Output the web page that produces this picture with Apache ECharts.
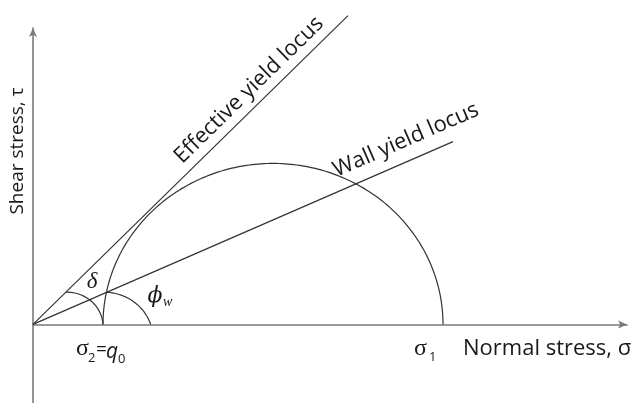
<!DOCTYPE html>
<html><head><meta charset="utf-8">
<script src="https://cdn.jsdelivr.net/npm/echarts@6.0.0/dist/echarts.min.js"></script>
<style>html,body{margin:0;padding:0;background:#fff}#c{width:639px;height:403px}</style>
</head><body><div id="c"></div>
<script>
// ---- diagram values (stress units, origin = 0) ----
const sigma2 = 70;                    // σ2 = q0 (minor principal stress)
const sigma1 = 410;                   // σ1 (major principal stress)
const effectiveLocus = [[0, 0], [315, 326]];
const wallLocus = [[0, 0], [420, 193]];
// angle markers: [centerX, centerY, radius] of arc, ends on the x axis and on a locus
const deltaArc = [34, -2, 36];
const phiArc = [71, -15, 49];
const xRange = [0, 594];
const yRange = [-83, 313];

// ---- derived geometry ----
function mohrCircle(s2, s1) {
  const c = (s1 + s2) / 2, r = (s1 - s2) / 2, pts = [];
  for (let d = 0; d <= 180; d += 1) {
    const t = d * Math.PI / 180;
    pts.push([c + r * Math.cos(t), r * Math.sin(t)]);
  }
  return pts;
}
function markerArc(arc, locus) {
  const [cx, cy, r] = arc;
  const m = locus[1][1] / locus[1][0];
  const a = 1 + m * m, b = -2 * (cx + m * cy), cc = cx * cx + cy * cy - r * r;
  const x = (-b + Math.sqrt(b * b - 4 * a * cc)) / (2 * a);
  const t1 = Math.atan2(m * x - cy, x - cx);
  const t0 = Math.asin(-cy / r);
  const pts = [], n = 60;
  for (let i = 0; i <= n; i++) {
    const t = t0 + (t1 - t0) * i / n;
    pts.push([cx + r * Math.cos(t), cy + r * Math.sin(t)]);
  }
  return pts;
}

const lineCol = '#333333';
function lineSeries(data, w) {
  return { type: 'line', data: data, showSymbol: false, symbol: 'none', clip: false, silent: true,
    lineStyle: { color: lineCol, width: w || 1.2 }, animation: false };
}

const chart = echarts.init(document.getElementById('c'), null, { renderer: 'canvas' });
const txt = '#1a1a1a';
const sans = '"Open Sans", sans-serif';
const serif = '"Liberation Serif", "DejaVu Serif", serif';
const dserif = '"DejaVu Serif", serif';
function T(x, y, text, font, opts) {
  opts = opts || {};
  return { type: 'text', x: x, y: y, rotation: opts.rot || 0, silent: true,
    style: { text: text, font: font, fill: txt,
      align: opts.align || 'left', verticalAlign: 'middle',
      textAlign: opts.align || 'left', textVerticalAlign: 'middle' } };
}
const deg = Math.PI / 180;

chart.setOption({
  animation: false,
  backgroundColor: '#fff',
  grid: { left: 33, right: 12, top: 28, bottom: 0, containLabel: false },
  xAxis: { type: 'value', min: xRange[0], max: xRange[1],
    axisLine: { onZero: true, symbol: ['none', 'arrow'], symbolSize: [6, 9],
      lineStyle: { color: '#7a7a7a', width: 1.6 } },
    axisTick: { show: false }, axisLabel: { show: false }, splitLine: { show: false } },
  yAxis: { type: 'value', min: yRange[0], max: yRange[1],
    axisLine: { show: true, onZero: true, symbol: ['none', 'arrow'], symbolSize: [6, 9],
      lineStyle: { color: '#7a7a7a', width: 1.6 } },
    axisTick: { show: false }, axisLabel: { show: false }, splitLine: { show: false } },
  series: [
    lineSeries(effectiveLocus),
    lineSeries(wallLocus),
    lineSeries(mohrCircle(sigma2, sigma1)),
    lineSeries(markerArc(deltaArc, effectiveLocus)),
    lineSeries(markerArc(phiArc, wallLocus))
  ],
  graphic: [
    T(18, 151, 'Shear stress, \u03c4', '19px ' + sans, { align: 'center', rot: 90 * deg }),
    T(463, 349, 'Normal stress, \u03c3', '22px ' + sans),
    T(414, 349, '\u03c3', '24px ' + serif),
    T(429, 357, '1', '13px ' + sans),
    T(76, 349, '\u03c3', '24px ' + serif),
    T(88, 358, '2', '13px ' + sans),
    T(96, 350, '=', '19px ' + sans),
    T(106, 352, 'q', 'italic 21px ' + sans),
    T(118, 359, '0', '13px ' + sans),
    T(92, 282, '\u03b4', 'italic 23px ' + serif, { align: 'center' }),
    T(155, 296, '\u03d5', 'italic 22px ' + dserif, { align: 'center' }),
    T(163, 302, 'w', 'italic 14px ' + serif),
    T(249, 90, 'Effective yield locus', '22px ' + sans, { align: 'center', rot: 44.4 * deg }),
    T(406, 140, 'Wall yield locus', '22px ' + sans, { align: 'center', rot: 23.5 * deg })
  ]
});
</script></body></html>
